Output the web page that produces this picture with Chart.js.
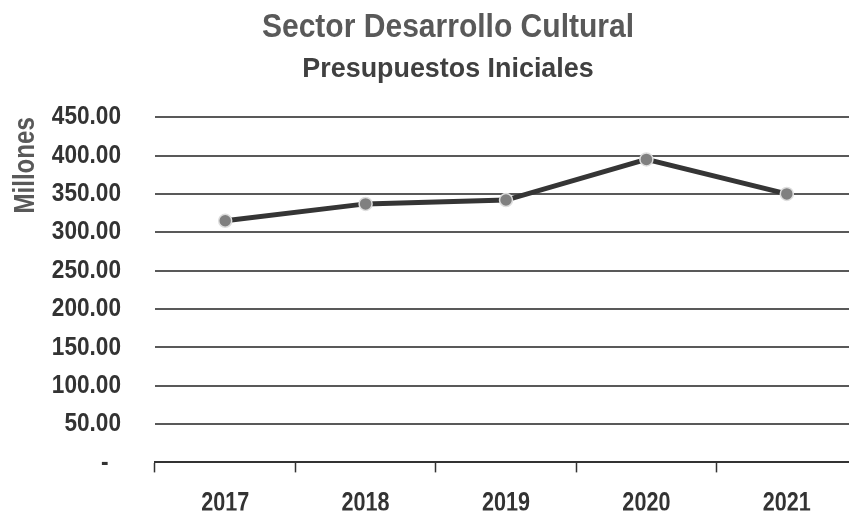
<!DOCTYPE html>
<html>
<head>
<meta charset="utf-8">
<script src="https://cdn.jsdelivr.net/npm/chart.js@4.4.1/dist/chart.umd.min.js"></script>
<style>
  html, body { margin: 0; padding: 0; background: #fff; overflow: hidden; }
  #wrap { width: 896px; height: 512px; }
</style>
</head>
<body>
<div id="wrap"><canvas id="c" width="896" height="512"></canvas></div>
<script>
const categories = ['2017', '2018', '2019', '2020', '2021'];
const budgetValues = [315, 337, 342, 395, 350];
const yTickValues = [0, 50, 100, 150, 200, 250, 300, 350, 400, 450];
const chartTitle = 'Sector Desarrollo Cultural';
const chartSubtitle = 'Presupuestos Iniciales';
const yAxisTitle = 'Millones';

const FAM = "'Liberation Sans', Arial, sans-serif";
// horizontal condensing per font size (emulates a narrow typeface)
const TEXT_WIDTH_SCALE = { 33: 0.91, 28: 0.96, 26: 0.87, 27: 0.8, 29: 0.83 };

const canvas = document.getElementById('c');
const ctx = canvas.getContext('2d');
const P = CanvasRenderingContext2D.prototype;
function textScaleFor(font) {
  const m = /([\d.]+)px/.exec(font);
  const s = m ? parseFloat(m[1]) : 0;
  return TEXT_WIDTH_SCALE[s] || 1;
}
ctx.fillText = function (text, x, y) {
  const sx = textScaleFor(this.font);
  if (sx === 1) return P.fillText.call(this, text, x, y);
  this.save();
  this.translate(x, y);
  this.scale(sx, 1);
  P.fillText.call(this, text, 0, 0);
  this.restore();
};
ctx.measureText = function (text) {
  const m = P.measureText.call(this, text);
  const sx = textScaleFor(this.font);
  return {
    width: m.width * sx,
    actualBoundingBoxAscent: m.actualBoundingBoxAscent,
    actualBoundingBoxDescent: m.actualBoundingBoxDescent,
    actualBoundingBoxLeft: m.actualBoundingBoxLeft * sx,
    actualBoundingBoxRight: m.actualBoundingBoxRight * sx
  };
};

new Chart(ctx, {
  type: 'line',
  data: {
    labels: categories,
    datasets: [{
      data: budgetValues,
      borderColor: '#353535',
      borderWidth: 5,
      pointRadius: 6.5,
      pointBackgroundColor: '#808080',
      pointBorderColor: '#dedede',
      pointBorderWidth: 1.5,
      tension: 0,
      clip: false
    }]
  },
  options: {
    responsive: false,
    animation: false,
    layout: { padding: { top: 0, right: 0, bottom: 0, left: 0 } },
    plugins: {
      legend: { display: false },
      tooltip: { enabled: false },
      title: {
        display: true,
        text: chartTitle,
        color: '#595959',
        font: { family: FAM, size: 33, weight: 'bold', lineHeight: 1.2 },
        padding: { top: 8, bottom: 5 }
      },
      subtitle: {
        display: true,
        text: chartSubtitle,
        color: '#404040',
        font: { family: FAM, size: 28, weight: 'bold', lineHeight: 1.2 },
        padding: { top: 0, bottom: 31 }
      }
    },
    scales: {
      x: {
        offset: true,
        grid: {
          display: true,
          offset: true,
          drawOnChartArea: false,
          drawTicks: true,
          tickLength: 10,
          tickColor: '#333',
          tickWidth: 1.5
        },
        border: { display: true, color: '#333', width: 2 },
        ticks: {
          color: '#333',
          font: { family: FAM, size: 27, weight: 'bold' },
          padding: 15,
          maxRotation: 0
        },
        afterFit: (s) => { s.height = 48; }
      },
      y: {
        min: 0,
        max: 450,
        afterBuildTicks: (s) => { s.ticks = yTickValues.map(v => ({ value: v })); },
        grid: {
          color: '#595959',
          lineWidth: 2,
          drawTicks: false
        },
        border: { display: false },
        ticks: {
          color: '#333',
          font: { family: FAM, size: 26, weight: 'bold' },
          padding: 34,
          callback: (v) => v === 0 ? '-  ' : Number(v).toFixed(2)
        },
        title: {
          display: true,
          text: yAxisTitle,
          align: 'end',
          color: '#595959',
          font: { family: FAM, size: 29, weight: 'bold', lineHeight: 1.2 },
          padding: { top: 9, bottom: 0 }
        },
        afterFit: (s) => { s.width = 155; }
      },
      yr: {
        position: 'right',
        display: true,
        grid: { display: false },
        border: { display: false },
        ticks: { display: false },
        afterFit: (s) => { s.width = 39; }
      }
    }
  }
});
</script>
</body>
</html>
